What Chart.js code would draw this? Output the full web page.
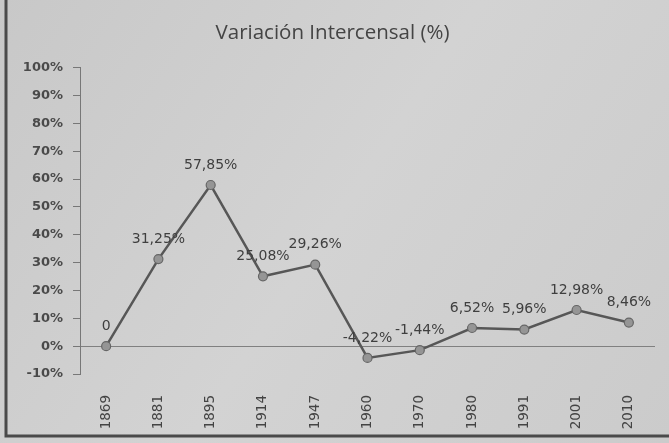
<!DOCTYPE html>
<html>
<head>
<meta charset="utf-8">
<script src="https://cdn.jsdelivr.net/npm/chart.js@4.4.1/dist/chart.umd.min.js"></script>
<style>
  html, body { margin: 0; padding: 0; background: #cdcdcd; }
  #wrap { width: 669px; height: 443px; }
</style>
</head>
<body>
<div id="wrap"><canvas id="chart" width="669" height="443"></canvas></div>
<script>
// datos del gráfico
const years = ["1869", "1881", "1895", "1914", "1947", "1960", "1970", "1980", "1991", "2001", "2010"];
const variacion = [0, 31.25, 57.85, 25.08, 29.26, -4.22, -1.44, 6.52, 5.96, 12.98, 8.46];
const etiquetas = ["0", "31,25%", "57,85%", "25,08%", "29,26%", "-4,22%", "-1,44%", "6,52%", "5,96%", "12,98%", "8,46%"];

// fondo gris tipo foto + marco
const fondo = {
  id: 'fondo',
  beforeDraw(chart) {
    const c = chart.ctx;
    const g = c.createLinearGradient(0, 0, 669, 443);
    g.addColorStop(0, '#c8c8c8');
    g.addColorStop(0.5, '#d3d3d3');
    g.addColorStop(1, '#cbcbcb');
    c.save();
    c.fillStyle = g;
    c.fillRect(0, 0, chart.width, chart.height);
    c.strokeStyle = '#4a4a4a';
    c.lineWidth = 3;
    c.beginPath();
    c.moveTo(6, 0);
    c.lineTo(6, 436);
    c.lineTo(669, 436);
    c.stroke();
    c.restore();
  }
};

// etiquetas de datos encima de cada punto
const etiquetasPlugin = {
  id: 'etiquetas',
  afterDatasetsDraw(chart) {
    const c = chart.ctx;
    const meta = chart.getDatasetMeta(0);
    c.save();
    c.font = '14px "DejaVu Sans"';
    c.fillStyle = '#3f3f3f';
    c.textAlign = 'center';
    c.textBaseline = 'bottom';
    meta.data.forEach((pt, i) => {
      c.fillText(etiquetas[i], pt.x, pt.y - 13);
    });
    c.restore();
  }
};

new Chart(document.getElementById('chart'), {
  type: 'line',
  data: {
    labels: years,
    datasets: [{
      data: variacion,
      borderColor: '#575757',
      borderWidth: 2.5,
      pointRadius: 4.5,
      pointBackgroundColor: '#959595',
      pointBorderColor: '#666',
      pointBorderWidth: 1.2,
      tension: 0
    }]
  },
  options: {
    responsive: false,
    animation: false,
    layout: { padding: { left: 10, right: 14, top: 21, bottom: 8 } },
    plugins: {
      legend: { display: false },
      tooltip: { enabled: false },
      title: {
        display: true,
        text: 'Variación Intercensal (%)',
        color: '#444',
        font: { family: '"Open Sans"', size: 20.5, weight: 'normal' },
        padding: { top: 0, bottom: 22 }
      }
    },
    scales: {
      x: {
        offset: true,
        grid: { display: false, drawTicks: false },
        border: { display: false },
        ticks: {
          color: '#444',
          font: { family: '"DejaVu Sans"', size: 13.5 },
          minRotation: 90,
          maxRotation: 90,
          padding: 21
        },
        afterFit(scale) { scale.height = 61; }
      },
      y: {
        min: -10,
        max: 100,
        ticks: {
          stepSize: 10,
          color: '#4a4a4a',
          font: { family: '"DejaVu Sans"', size: 13, weight: 'bold' },
          padding: 10,
          callback: v => v + '%'
        },
        grid: {
          color: ctx => ctx.tick && ctx.tick.value === 0 ? '#808080' : 'rgba(0,0,0,0)',
          tickColor: '#777',
          tickLength: 7,
          lineWidth: 1
        },
        border: { color: '#777', width: 1 },
        afterFit(scale) { scale.width = 70; }
      }
    }
  },
  plugins: [fondo, etiquetasPlugin]
});
</script>
</body>
</html>
